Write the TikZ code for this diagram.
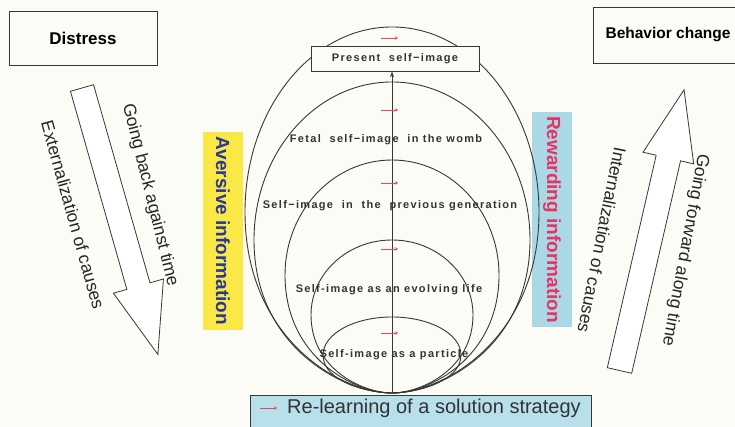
\documentclass[tikz,border=0pt]{standalone}
\usepackage{fontspec}
\setmainfont{Liberation Sans}
\newfontfamily\gothic[LetterSpace=12]{Liberation Sans}
\usetikzlibrary{arrows.meta}
\definecolor{bgcream}{RGB}{252,252,246}
\definecolor{linegray}{RGB}{55,55,55}
\definecolor{avblue}{RGB}{40,56,150}
\definecolor{avyellow}{RGB}{250,232,70}
\definecolor{rwred}{RGB}{232,50,100}
\definecolor{rwblue}{RGB}{170,216,228}
\definecolor{stblue}{RGB}{183,224,234}
\definecolor{tickred}{RGB}{235,70,90}
\tikzset{
	ring/.style={linegray, line width=0.9pt},
	framebox/.style={draw=linegray, line width=0.8pt, inner sep=0pt},
	selflabel/.style={font=\gothic\bfseries\fontsize{11}{13}\selectfont, text=black!80, inner sep=0pt},
	sidetext/.style={font=\fontsize{17.5}{20}\selectfont, text=black!85, inner sep=0pt},
	infotext/.style={font=\bfseries\fontsize{19}{22}\selectfont, inner sep=0pt},
	tick/.style={tickred, line width=0.9pt, -{Stealth[length=3pt,width=3.5pt]}},
	blockarrow/.style={draw=linegray, line width=0.8pt, fill=white}
}
\begin{document}
\begin{tikzpicture}[x=1pt,y=1pt]
		\useasboundingbox (0,0) rectangle (735,427);
		\fill[bgcream] (0,0) rectangle (735,427);
		% top boxes
		\node[framebox, minimum width=148pt, minimum height=54pt, font=\bfseries\fontsize{17}{20}\selectfont] (distress) at (83,389) {Distress};
		\node[framebox, minimum width=150pt, minimum height=56pt, font=\bfseries\fontsize{15.5}{18}\selectfont] (change) at (668,392) {Behavior change};
		% hollow arrows
		\begin{scope}[shift={(82,339)}, rotate=-74.1]
		\draw[blockarrow] (0,12) -- (206,12) -- (206,26) -- (277,0) -- (206,-26) -- (206,-12) -- (0,-12) -- cycle;
		\end{scope}
		\begin{scope}[shift={(619.5,56.5)}, rotate=77.05]
		\draw[blockarrow] (0,12.5) -- (218,12.5) -- (218,26) -- (288,0) -- (218,-26) -- (218,-12.5) -- (0,-12.5) -- cycle;
		\end{scope}
		\node[sidetext, rotate=-76] (back) at (150,232) {Going back against time};
		\node[sidetext, rotate=-74.4] (extern) at (73,212) {Externalization of causes};
		\node[sidetext, rotate=-101.3] (intern) at (602,187) {Internalization of causes};
		\node[sidetext, rotate=-100.5] (forward) at (685,177) {Going forward along time};
		% information bars
		\node[infotext, fill=avyellow, text=avblue, rotate=-90, minimum width=198pt, minimum height=40pt] (aversive) at (223,196) {Aversive information};
		\node[infotext, fill=rwblue, text=rwred, rotate=-90, minimum width=215pt, minimum height=40pt] (rewarding) at (552,207.5) {Rewarding information};
		% nested self-images
		\foreach \top/\mid/\rx in {400/215/147, 345/187/138, 267/152/107, 187/112/81, 110/72/69}
		\draw[ring] (392,34) .. controls +({-0.35*\rx},0) and +(0,{-0.7*(\mid-34)}) .. ({392-\rx},\mid)
			.. controls +(0,{0.552*(\top-\mid)}) and +({-0.552*\rx},0) .. (392,\top)
			.. controls +({0.552*\rx},0) and +(0,{0.552*(\top-\mid)}) .. ({392+\rx},\mid)
			.. controls +(0,{-0.7*(\mid-34)}) and +({0.35*\rx},0) .. (392,34);
		\node[framebox, selflabel, fill=bgcream, minimum width=168pt, minimum height=25pt] (present) at (395,368.5) {Present\ \ self−image};
		\node[selflabel] (fetal) at (386,287) {Fetal\ \ self−image\ \ in the womb};
		\node[selflabel] (previous) at (390,221) {Self−image\ \ in\ \ the\ \ previous generation};
		\node[selflabel] (evolving) at (389,137) {Self-image as an evolving life};
		\node[selflabel] (particle) at (394,72) {Self-image as a particle};
		\coordinate (base) at (392,34);
		\draw[ring, -{Stealth[length=6pt,width=4pt]}] (base) -- (base |- present.south);
		\foreach \y in {389,317,244,178,94}
		\draw[tick] (381,\y) -- (398,\y);
		% strategy bar
		\node[draw=linegray, fill=stblue, line width=0.8pt, minimum width=341pt, minimum height=40pt, inner sep=0pt] (strategy) at (420.5,12) {};
		\node[anchor=base west, font=\fontsize{20}{24}\selectfont, text=black!80, inner sep=0pt] (relearn) at (287,13) {Re-learning of a solution strategy};
		\draw[tick] ([xshift=-27pt,yshift=6pt]relearn.base west) -- ++(17,0);
\end{tikzpicture}
\end{document}
